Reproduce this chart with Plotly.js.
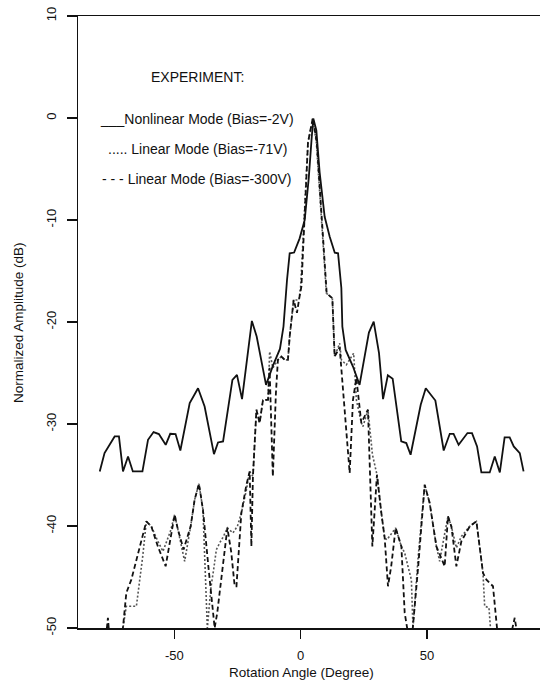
<!DOCTYPE html>
<html>
<head>
<meta charset="utf-8">
<script src="https://cdn.plot.ly/plotly-3.0.1.min.js"></script>
<style>html,body{margin:0;padding:0;background:#fff;}#chart{width:540px;height:682px;}</style>
</head>
<body>
<div id="chart"></div>
<script>
// Nonlinear Mode (Bias=-2V)
const angleNonlinear = [-79.5,-77.6,-73.6,-71.9,-70.3,-68.3,-66.4,-62.6,-60.4,-58.2,-56.1,-53.4,-51.6,-49.5,-47.6,-43.9,-40.6,-38.0,-34.3,-32.7,-30.7,-27.0,-25.2,-23.2,-19.3,-17.4,-13.7,-11.0,-8.2,-6.8,-5.4,-4.35,-2.6,-0.4,1.6,3.2,4.35,5.0,6.2,7.5,9.5,11.5,13.5,14.8,16.1,16.5,17.8,20.7,23.3,27.0,28.9,31.0,32.6,34.5,36.4,39.8,41.8,43.5,47.5,49.5,53.3,56.6,59.0,60.5,62.5,66.0,67.8,69.8,71.5,74.8,76.8,78.8,80.7,82.7,84.3,86.7,88.2];
const ampNonlinear = [-34.65,-32.85,-31.22,-31.22,-34.65,-33.18,-34.65,-34.65,-31.55,-30.79,-30.99,-32.04,-30.96,-30.99,-32.60,-27.95,-26.49,-28.29,-32.95,-31.81,-31.71,-25.67,-25.18,-27.56,-19.90,-21.43,-26.16,-24.30,-22.64,-20.45,-15.88,-13.27,-13.19,-11.80,-10.0,-5.9,-1.98,-0.05,-1.19,-5.3,-9.68,-11.64,-13.21,-13.27,-16.67,-20.45,-22.74,-24.37,-26.16,-21.04,-19.96,-23.06,-27.56,-25.23,-25.56,-31.71,-31.87,-33.02,-28.12,-26.49,-27.70,-32.60,-30.96,-30.96,-32.04,-30.89,-30.89,-32.20,-34.75,-34.75,-33.18,-34.75,-31.32,-31.32,-32.20,-32.85,-34.65];

// Linear Mode (Bias=-71V)
const angleLinear71 = [-80,-72,-70.3,-69.0,-65.0,-62.5,-61.06,-59.08,-56.5,-54.49,-51.5,-49.86,-48.56,-45.9,-43.5,-41.95,-40.25,-38.66,-36.92,-35.5,-34.43,-33.36,-32.05,-30.5,-29.0,-26.8,-25,-23.47,-21.5,-20.18,-18.88,-17.5,-16.23,-14.9,-12.9,-12.27,-11.0,-9.0,-7.64,-6.33,-5.03,-4.35,-2.77,-0.67,0.0,2.9,4.8,6.2,10.17,12.54,12.78,13.45,15.43,16.11,18.08,20.97,22.04,24.0,24.65,26.63,28.4,30.19,31.93,33.24,34.15,35.8,37.59,39.85,41.16,42.46,43.81,44.44,46.5,49.07,51.05,53.7,55.0,56.8,58.29,59.64,61.61,63.59,66.88,69.53,72.14,72.81,74.5,76,85];
const ampLinear71 = [-53,-53,-50,-47.87,-47.87,-43,-39.55,-40.04,-41.5,-42.49,-40.5,-38.89,-40.36,-43.46,-40,-37.42,-35.86,-38.4,-50,-46,-44.28,-42.32,-41.66,-41,-40.19,-40.68,-40,-38.73,-36.5,-34.65,-35.14,-28.6,-29.9,-27.63,-27.63,-22.9,-24.5,-23.71,-23.39,-23.71,-23.71,-21.43,-17.84,-17.84,-16.5,-2.4,-0.1,-2.4,-17.18,-17.67,-19.14,-23.39,-22.08,-23.71,-24.2,-23.06,-27.63,-29.9,-30.25,-28.6,-33,-34.97,-38.73,-41.17,-41.34,-40.8,-40.19,-42.0,-42.64,-43.95,-45.26,-50,-43,-35.95,-37.75,-42.0,-43.46,-41,-39.06,-40.04,-42.15,-41.02,-40.04,-39.55,-44.6,-47.87,-48,-53,-53];

// Linear Mode (Bias=-300V)
const angleLinear300 = [-80,-77.5,-76.26,-75,-71.5,-68.98,-67.0,-63.5,-61.06,-59.08,-56.5,-53.42,-51.5,-49.86,-48.56,-46.3,-43.5,-41.95,-40.25,-38.66,-36.5,-34.03,-33,-30.75,-29.0,-27.5,-26.1,-25.4,-23.47,-21.5,-20.18,-19.5,-18.88,-17.5,-16.23,-14.9,-12.9,-12.3,-11.0,-9.8,-9.0,-7.64,-6.33,-5.03,-4.35,-2.77,-1.46,-0.67,0.3,2.9,4.8,6.4,10.0,10.3,12.54,12.78,13.45,15.43,16.5,18.72,19.39,20.70,22.04,24.0,26.63,28.37,30.19,31.93,33.24,34.55,35.8,37.59,39.85,41.16,42.46,44.0,46.5,49.07,51.05,53.7,56.98,58.29,59.64,61.61,63.59,66.88,69.53,72.14,73.49,76.1,78.08,82.0,84.7,86.5];
const ampLinear300 = [-53,-52,-49.0,-53,-53,-46.56,-45.26,-42,-39.55,-40.04,-42,-43.95,-41,-38.89,-40.36,-42.3,-40,-37.42,-35.86,-38.4,-44,-50,-48.5,-43.95,-40.19,-42.5,-45.91,-45.91,-38.73,-36,-34.65,-42.0,-35.14,-28.6,-29.9,-27.63,-27.63,-24.5,-35.14,-27,-23.71,-23.39,-23.71,-23.71,-21.43,-17.84,-19.1,-17.84,-16.5,-2.4,0,-2.4,-16.5,-17.18,-17.67,-19.14,-23.39,-22.5,-26,-32.54,-34.81,-27.63,-25.5,-29.9,-28.6,-42.0,-34.97,-38.73,-41.17,-45.91,-44,-40.19,-42.0,-48.52,-50.5,-51,-44,-35.95,-37.75,-42.0,-43.95,-39.06,-40.04,-43.95,-41.5,-40.04,-39.55,-44.6,-45.26,-45.91,-51,-52,-49.0,-52];

const yTicks = [-50,-40,-30,-20,-10,0,10];
const xTicks = [-50,0,50];
const legendLines = ['EXPERIMENT:','___Nonlinear Mode (Bias=-2V)','..... Linear Mode (Bias=-71V)','- - - Linear Mode (Bias=-300V)'];
const xTitle = 'Rotation Angle (Degree)';
const yTitle = 'Normalized Amplitude (dB)';

const FONT = 'Liberation Sans, Arial, Helvetica, sans-serif';

const traces = [
  {x: angleLinear71, y: ampLinear71, mode: 'lines', line: {color: '#555', width: 1.6, dash: '2px,2px'}},
  {x: angleLinear300, y: ampLinear300, mode: 'lines', line: {color: '#111', width: 1.8, dash: '5px,3px'}},
  {x: angleNonlinear, y: ampNonlinear, mode: 'lines', line: {color: '#111', width: 1.8}}
];

const legendPos = [[0.1537,0.9003],[0.0433,0.8317],[0.0606,0.7827],[0.0476,0.7337]];
const annotations = legendLines.map((t,i) => ({
  text: t, xref: 'paper', yref: 'paper', x: legendPos[i][0], y: legendPos[i][1],
  xanchor: 'left', yanchor: 'middle', showarrow: false, font: {family: FONT, size: 14, color: '#111'}
}));
annotations.push({text: xTitle, xref: 'paper', yref: 'paper', x: 0.4827, y: -0.0719, xanchor: 'center', yanchor: 'middle', showarrow: false, font: {family: FONT, size: 13.5, color: '#111'}});
annotations.push({text: yTitle, xref: 'paper', yref: 'paper', x: -0.1299, y: 0.5, xanchor: 'center', yanchor: 'middle', textangle: -90, showarrow: false, font: {family: FONT, size: 13.5, color: '#111'}});

const layout = {
  width: 540, height: 682,
  margin: {l: 78, r: 0, t: 16, b: 54},
  paper_bgcolor: '#fff', plot_bgcolor: '#fff',
  showlegend: false,
  font: {family: FONT, color: '#111'},
  xaxis: {
    range: [-88.1, 94.7], tickvals: xTicks, ticktext: xTicks.map(String),
    ticks: 'outside', ticklen: 9, tickwidth: 1.5, tickcolor: '#111', ticklabelstandoff: 6,
    showline: true, linecolor: '#111', linewidth: 1.5, mirror: true,
    showgrid: false, zeroline: false, tickfont: {size: 13, family: FONT, color: '#111'}
  },
  yaxis: {
    range: [-50, 10], tickvals: yTicks, ticktext: yTicks.map(String),
    ticks: 'outside', ticklen: 10, tickwidth: 1.5, tickcolor: '#111', tickangle: -90, ticklabelstandoff: 5,
    showline: true, linecolor: '#111', linewidth: 1.5,
    showgrid: false, zeroline: false, tickfont: {size: 13, family: FONT, color: '#111'}
  },
  annotations: annotations
};

Plotly.newPlot('chart', traces, layout, {displayModeBar: false, staticPlot: true});
</script>
</body>
</html>
